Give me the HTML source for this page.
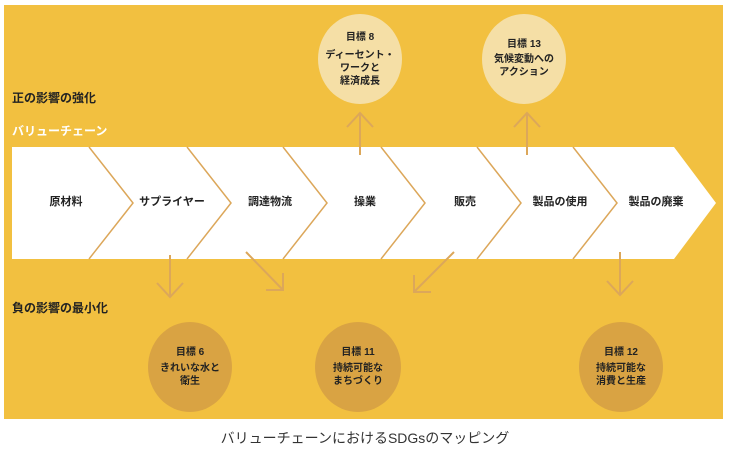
<!DOCTYPE html>
<html><head><meta charset="utf-8"><style>
body{margin:0;width:730px;height:458px;background:#fff;overflow:hidden;font-family:"Liberation Sans","Noto Sans CJK JP",sans-serif}
</style></head><body>
<svg width="730" height="458" xmlns="http://www.w3.org/2000/svg" font-family="Liberation Sans, Noto Sans CJK JP, sans-serif">
<rect x="4" y="5" width="719" height="414" fill="#f2c040"/>
<polygon points="12,147 674,147 716,203 674,259 12,259" fill="#fff"/>
<g stroke="#dca75a" stroke-width="1.5" fill="none">
<polyline points="89,147 133,203 89,259"/>
<polyline points="187,147 231,203 187,259"/>
<polyline points="283,147 327,203 283,259"/>
<polyline points="381,147 425,203 381,259"/>
<polyline points="477,147 521,203 477,259"/>
<polyline points="573,147 617,203 573,259"/>
</g>
<g font-size="11" font-weight="bold" fill="#222" text-anchor="middle">
<text x="66" y="205">原材料</text><text x="172" y="205">サプライヤー</text><text x="270" y="205">調達物流</text><text x="365" y="205">操業</text><text x="465" y="205">販売</text><text x="560" y="205">製品の使用</text><text x="656" y="205">製品の廃棄</text>
</g>
<ellipse cx="360" cy="59" rx="42" ry="45" fill="#f5dfa6"/>
<ellipse cx="524" cy="59" rx="42" ry="45" fill="#f5dfa6"/>
<ellipse cx="190" cy="367" rx="42" ry="45" fill="#d9a343"/>
<ellipse cx="358" cy="367" rx="43" ry="45" fill="#d9a343"/>
<ellipse cx="621" cy="367" rx="42" ry="45" fill="#d9a343"/>
<g stroke="#dca75a" stroke-width="2" fill="none">
<line x1="360" y1="155" x2="360" y2="113"/><polyline points="347,127 360,113 373,127"/>
<line x1="527" y1="155" x2="527" y2="113"/><polyline points="514,127 527,113 540,127"/>
<line x1="170" y1="255" x2="170" y2="297"/><polyline points="157,283 170,297 183,283"/>
<line x1="246" y1="252" x2="283" y2="290"/><polyline points="266,290 283,290 283,273"/>
<line x1="454" y1="252" x2="414" y2="292"/><polyline points="414,275 414,292 431,292"/>
<line x1="620" y1="252" x2="620" y2="295"/><polyline points="607,281 620,295 633,281"/>
</g>
<g font-size="10" fill="#222" text-anchor="middle" font-weight="bold">
<text x="360" y="40">目標 8</text><text x="360" y="58">ディーセント・</text><text x="360" y="71">ワークと</text><text x="360" y="84">経済成長</text>
<text x="524" y="47">目標 13</text><text x="524" y="62">気候変動への</text><text x="524" y="75">アクション</text>
<text x="190" y="355">目標 6</text><text x="190" y="371">きれいな水と</text><text x="190" y="384">衛生</text>
<text x="358" y="355">目標 11</text><text x="358" y="371">持続可能な</text><text x="358" y="384">まちづくり</text>
<text x="621" y="355">目標 12</text><text x="621" y="371">持続可能な</text><text x="621" y="384">消費と生産</text>
</g>
<g font-size="12" font-weight="bold">
<text x="12" y="102" fill="#222">正の影響の強化</text>
<text x="12" y="135" fill="#fff">バリューチェーン</text>
<text x="12" y="312" fill="#222">負の影響の最小化</text>
</g>
<text x="365" y="443" font-size="14" fill="#333" text-anchor="middle">バリューチェーンにおけるSDGsのマッピング</text>
</svg>
</body></html>
